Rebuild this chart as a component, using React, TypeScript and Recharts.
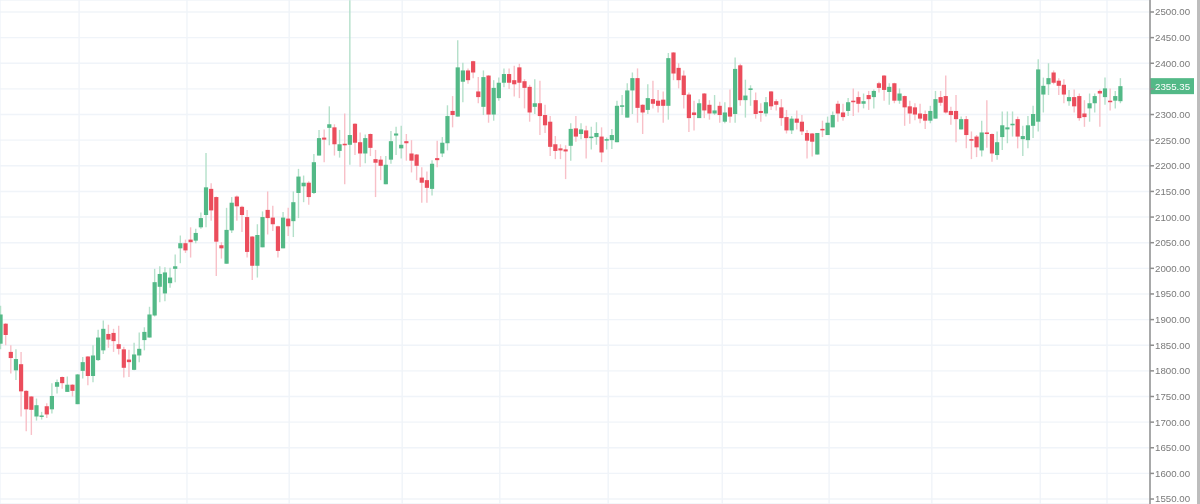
import { Bar, CartesianGrid, ComposedChart, ReferenceLine, XAxis, YAxis } from "recharts";

const opens = [
  1853, 1892, 1837, 1801, 1813, 1761, 1750, 1711, 1711, 1731,
  1725, 1769, 1788, 1759, 1773, 1735, 1800, 1828, 1790, 1821,
  1840, 1872, 1874, 1852, 1842, 1822, 1802, 1830, 1860, 1865,
  1908, 1964, 1951, 1971, 1999, 2039, 2049, 2056, 2054, 2080,
  2104, 2155, 2139, 2045, 2009, 2074, 2140, 2120, 2100, 2062,
  2005, 2041, 2114, 2099, 2082, 2039, 2097, 2092, 2147, 2160,
  2167, 2147, 2220, 2255, 2274, 2275, 2229, 2243, 2241, 2282,
  2246, 2224, 2262, 2213, 2212, 2164, 2212, 2259, 2234, 2248,
  2224, 2222, 2177, 2172, 2155, 2215, 2224, 2244, 2307, 2296,
  2364, 2386, 2404, 2345, 2315, 2376, 2300, 2332, 2362, 2379,
  2367, 2392, 2365, 2354, 2315, 2322, 2299, 2286, 2242, 2234,
  2232, 2239, 2273, 2262, 2269, 2254, 2256, 2257, 2249, 2250,
  2246, 2315, 2294, 2347, 2371, 2319, 2309, 2330, 2327, 2329,
  2317, 2421, 2391, 2376, 2339, 2304, 2293, 2341, 2319, 2302,
  2317, 2286, 2314, 2301, 2396, 2328, 2348, 2328, 2307, 2302,
  2345, 2326, 2314, 2295, 2269, 2292, 2286, 2264, 2263, 2222,
  2272, 2260, 2275, 2321, 2304, 2307, 2327, 2334, 2321, 2338,
  2334, 2361, 2376, 2344, 2361, 2327, 2336, 2316, 2314, 2302,
  2301, 2288, 2292, 2334, 2336, 2307, 2307, 2271, 2291, 2252,
  2257, 2230, 2265, 2262, 2221, 2256, 2271, 2279, 2291, 2252,
  2250, 2278, 2286, 2339, 2359, 2382, 2366, 2358, 2326, 2334,
  2336, 2302, 2312, 2322, 2346, 2334, 2327, 2327, 2326,
];

const closes = [
  1910, 1870, 1825, 1823, 1760, 1725, 1724, 1733, 1713, 1715,
  1751, 1778, 1776, 1773, 1761, 1793, 1817, 1790, 1830, 1865,
  1882, 1861, 1858, 1843, 1806, 1817, 1832, 1843, 1876, 1910,
  1973, 1989, 1992, 1982, 2004, 2049, 2035, 2051, 2069, 2098,
  2158, 2113, 2052, 2039, 2075, 2128, 2121, 2104, 2032, 2005,
  2065, 2100, 2098, 2086, 2034, 2099, 2082, 2129, 2179, 2167,
  2139, 2207, 2254, 2251, 2281, 2242, 2242, 2240, 2260, 2245,
  2224, 2254, 2235, 2206, 2200, 2202, 2248, 2263, 2241, 2244,
  2210, 2200, 2167, 2157, 2204, 2211, 2245, 2297, 2299, 2392,
  2386, 2367, 2382, 2334, 2373, 2300, 2352, 2362, 2379, 2362,
  2359, 2362, 2352, 2304, 2322, 2297, 2279, 2237, 2229, 2230,
  2228, 2272, 2257, 2271, 2254, 2257, 2264, 2226, 2252, 2260,
  2317, 2318, 2347, 2371, 2313, 2304, 2332, 2321, 2317, 2317,
  2410, 2380, 2367, 2338, 2293, 2299, 2322, 2308, 2302, 2308,
  2299, 2304, 2296, 2389, 2328, 2337, 2351, 2301, 2303, 2324,
  2316, 2319, 2293, 2269, 2292, 2284, 2267, 2249, 2247, 2264,
  2269, 2284, 2299, 2302, 2295, 2324, 2324, 2321, 2326, 2330,
  2346, 2352, 2348, 2354, 2327, 2341, 2314, 2302, 2300, 2292,
  2288, 2307, 2330, 2323, 2304, 2299, 2291, 2291, 2260, 2249,
  2236, 2265, 2262, 2224, 2246, 2279, 2275, 2282, 2257, 2258,
  2279, 2301, 2388, 2356, 2371, 2362, 2356, 2339, 2334, 2316,
  2293, 2295, 2322, 2336, 2341, 2351, 2324, 2336, 2355.35,
];

const highs = [
  1927, 1893, 1850, 1842, 1837, 1762, 1751, 1746, 1720, 1737,
  1776, 1783, 1789, 1789, 1774, 1794, 1827, 1829, 1850, 1880,
  1898, 1890, 1882, 1888, 1847, 1841, 1855, 1875, 1885, 1925,
  1999, 2004, 2002, 2001, 2027, 2064, 2056, 2080, 2077, 2109,
  2225, 2166, 2140, 2051, 2118, 2139, 2142, 2122, 2114, 2063,
  2086, 2111, 2150, 2122, 2083, 2110, 2118, 2150, 2194, 2181,
  2170, 2223, 2270, 2271, 2316, 2281, 2270, 2302, 2523, 2283,
  2265, 2261, 2263, 2231, 2219, 2219, 2268, 2276, 2278, 2262,
  2250, 2223, 2197, 2189, 2211, 2249, 2256, 2318, 2336, 2445,
  2401, 2390, 2405, 2373, 2386, 2377, 2367, 2372, 2390, 2390,
  2395, 2399, 2369, 2358, 2369, 2366, 2319, 2297, 2258, 2242,
  2240, 2283, 2297, 2283, 2278, 2276, 2285, 2275, 2255, 2272,
  2327, 2338, 2361, 2382, 2390, 2320, 2359, 2366, 2348, 2345,
  2420, 2422, 2400, 2386, 2343, 2327, 2330, 2342, 2328, 2338,
  2325, 2324, 2349, 2411, 2399, 2368, 2357, 2343, 2322, 2334,
  2346, 2330, 2330, 2309, 2297, 2308, 2299, 2270, 2264, 2264,
  2288, 2296, 2306, 2327, 2321, 2332, 2351, 2345, 2341, 2346,
  2349, 2364, 2377, 2361, 2362, 2351, 2337, 2327, 2322, 2321,
  2308, 2317, 2346, 2346, 2376, 2315, 2338, 2296, 2297, 2267,
  2260, 2288, 2328, 2263, 2267, 2306, 2306, 2306, 2296, 2278,
  2297, 2317, 2408, 2372, 2400, 2386, 2371, 2369, 2348, 2349,
  2341, 2328, 2341, 2341, 2349, 2372, 2351, 2346, 2371,
];

const lows = [
  1842, 1850, 1795, 1782, 1711, 1682, 1675, 1703, 1705, 1708,
  1717, 1756, 1765, 1759, 1750, 1735, 1785, 1772, 1778, 1819,
  1833, 1845, 1837, 1832, 1787, 1788, 1801, 1817, 1840, 1865,
  1906, 1934, 1936, 1962, 1973, 2010, 2030, 2021, 2049, 2077,
  2080, 2093, 1985, 2019, 2009, 2069, 2093, 2071, 2021, 1977,
  1982, 2041, 2066, 2073, 2021, 2039, 2063, 2061, 2098, 2129,
  2124, 2145, 2220, 2207, 2240, 2220, 2216, 2164, 2202, 2221,
  2198, 2205, 2219, 2139, 2172, 2164, 2204, 2221, 2214, 2210,
  2187, 2172, 2128, 2128, 2142, 2197, 2217, 2230, 2275, 2296,
  2324, 2360, 2371, 2322, 2299, 2284, 2288, 2327, 2353, 2350,
  2335, 2332, 2312, 2286, 2301, 2260, 2264, 2219, 2213, 2213,
  2174, 2210, 2247, 2252, 2214, 2232, 2241, 2207, 2232, 2233,
  2246, 2299, 2294, 2301, 2284, 2262, 2301, 2312, 2304, 2284,
  2290, 2367, 2351, 2312, 2266, 2269, 2293, 2293, 2290, 2299,
  2284, 2283, 2284, 2284, 2317, 2294, 2317, 2292, 2286, 2296,
  2309, 2308, 2278, 2263, 2262, 2271, 2260, 2214, 2218, 2222,
  2256, 2260, 2275, 2286, 2288, 2297, 2297, 2304, 2312, 2309,
  2312, 2343, 2327, 2319, 2322, 2321, 2278, 2282, 2289, 2283,
  2272, 2283, 2292, 2317, 2302, 2280, 2246, 2271, 2234, 2213,
  2217, 2218, 2235, 2208, 2212, 2231, 2244, 2257, 2234, 2219,
  2234, 2254, 2267, 2304, 2338, 2359, 2338, 2322, 2317, 2304,
  2288, 2276, 2286, 2304, 2276, 2319, 2308, 2312, 2322,
];

const priceTicks = [
  1550, 1600, 1650, 1700, 1750, 1800, 1850, 1900, 1950, 2000,
  2050, 2100, 2150, 2200, 2250, 2300, 2350, 2400, 2450, 2500,
];
// session boundaries, in candle index units
const sessionTicks = [15.2, 36.2, 56.1, 78.1, 97.1, 118.2, 140.4, 161.2, 181.2, 202.3, 215.3];

const lastPrice = 2355.35;
const hiddenTick = 2350; // sits under the last price tag

const GREEN = "#53b987";
const RED = "#eb4d5c";
const GREEN_WICK = "#b4e0ca";
const RED_WICK = "#f8c0c8";
const FONT = "'Liberation Sans', Arial, sans-serif";

const candles = opens.map((open, i) => ({
  i,
  open,
  close: closes[i],
  high: highs[i],
  low: lows[i],
  range: [lows[i], highs[i]],
}));

// Bar gives the pixel box of low..high, the body is placed inside it
function Candle(props: any) {
  const { x, y, width, height, payload } = props;
  const { open, close, high, low } = payload;
  const up = close >= open;
  const perUnit = height / (high - low);
  const top = y + (high - Math.max(open, close)) * perUnit;
  const bodyHeight = Math.max(Math.abs(close - open) * perUnit, 1.5);
  const cx = x + width / 2;
  return (
    <g>
      <line x1={cx} x2={cx} y1={y} y2={y + height} stroke={up ? GREEN_WICK : RED_WICK} strokeWidth={1.4} />
      <rect x={x} y={top} width={width} height={bodyHeight} fill={up ? GREEN : RED} />
    </g>
  );
}

function LastPriceLabel(props: any) {
  const { viewBox } = props;
  const left = viewBox.x + viewBox.width;
  const y = viewBox.y;
  return (
    <g>
      <rect x={left} y={y - 8} width={44} height={16} fill={GREEN} />
      <text x={left + 5} y={y + 3.5} fontSize={9.7} fontFamily={FONT} fill="#ffffff">
        {lastPrice.toFixed(2)}
      </text>
    </g>
  );
}

const NoTick = () => <g />;

export default function App() {
  return (
    <div style={{ position: "absolute", left: 0, top: 0, width: 1200, height: 504, background: "#fff", overflow: "hidden" }}>
      <div style={{ filter: "blur(0.35px)" }}>
        <ComposedChart width={1197} height={504} data={candles} margin={{ top: 0, right: 0, bottom: 0, left: 0 }}>
          <CartesianGrid stroke="#f0f4f9" strokeWidth={1.4} />
          <XAxis
            dataKey="i"
            type="number"
            domain={[-0.195, 223.67]}
            ticks={sessionTicks}
            interval={0}
            allowDataOverflow
            height={0}
            tick={NoTick}
            tickLine={false}
            axisLine={false}
          />
          <YAxis
            orientation="right"
            type="number"
            domain={[1540.3, 2523.4]}
            ticks={priceTicks}
            allowDataOverflow
            interval={0}
            width={47}
            tickSize={4}
            tickMargin={1}
            tickFormatter={(v: number) => (v === hiddenTick ? "" : v.toFixed(2))}
            tick={{ fontSize: 9.7, fontFamily: FONT, fill: "#7a7a7a" }}
            stroke="#8f8f8f"
            strokeWidth={1.5}
          />
          <Bar dataKey="range" barSize={4.2} shape={Candle} isAnimationActive={false} />
          <ReferenceLine y={lastPrice} stroke="none" label={LastPriceLabel} />
        </ComposedChart>
      </div>
      <div style={{ position: "absolute", left: 1197, top: 0, width: 3, height: 504, background: "#bdbdbd" }} />
    </div>
  );
}
